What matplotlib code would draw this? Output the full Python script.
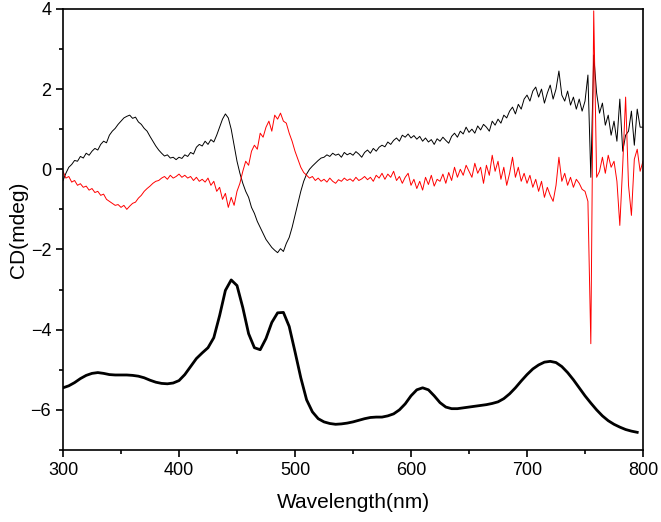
import numpy as np
import matplotlib
matplotlib.use("Agg")
import matplotlib.pyplot as plt
from matplotlib.ticker import MultipleLocator

plt.rcParams["font.family"] = ["Liberation Sans", "DejaVu Sans"]

# CD spectra, 2.5 nm steps from 300 to 800 nm
wl_cd = np.arange(300, 800.1, 2.5)

cd_black = [
    -0.28, -0.10, 0.05, 0.12, 0.22, 0.20, 0.32, 0.28, 0.40, 0.35,
    0.45, 0.52, 0.48, 0.62, 0.70, 0.66, 0.85, 0.95, 1.02, 1.12,
    1.20, 1.28, 1.32, 1.35, 1.27, 1.30, 1.18, 1.12, 1.02, 0.95,
    0.82, 0.70, 0.58, 0.48, 0.40, 0.33, 0.36, 0.28, 0.30, 0.24,
    0.30, 0.27, 0.36, 0.32, 0.42, 0.38, 0.55, 0.62, 0.58, 0.70,
    0.62, 0.74, 0.68, 0.85, 1.05, 1.25, 1.38, 1.28, 1.00, 0.60,
    0.20, -0.10, -0.35, -0.55, -0.70, -0.95, -1.10, -1.30, -1.45, -1.60,
    -1.75, -1.85, -1.95, -2.02, -2.08, -1.98, -2.05, -1.85, -1.70, -1.45,
    -1.15, -0.85, -0.55, -0.30, -0.12, 0.00, 0.08, 0.15, 0.22, 0.28,
    0.30, 0.36, 0.32, 0.40, 0.35, 0.38, 0.30, 0.42, 0.36, 0.40,
    0.35, 0.44, 0.38, 0.30, 0.42, 0.48, 0.40, 0.52, 0.45, 0.55,
    0.60, 0.56, 0.68, 0.62, 0.72, 0.78, 0.70, 0.85, 0.80, 0.88,
    0.78, 0.84, 0.75, 0.82, 0.70, 0.78, 0.68, 0.74, 0.62, 0.76,
    0.70, 0.80, 0.72, 0.65, 0.82, 0.90, 0.80, 0.95, 0.88, 1.05,
    0.92, 1.00, 0.90, 1.08, 0.98, 1.12, 1.05, 0.95, 1.20, 1.10,
    1.25, 1.15, 1.35, 1.28, 1.45, 1.55, 1.38, 1.62, 1.50, 1.75,
    1.85, 1.70, 1.95, 2.05, 1.80, 2.00, 1.65, 1.90, 2.10, 1.75,
    2.00, 2.45, 1.85, 1.70, 1.95, 1.60, 1.80, 1.50, 1.75, 1.45,
    1.70, 2.35, -0.20, 2.85, 1.90, 1.40, 1.65, 1.10, 1.35, 0.85,
    1.20, 0.70, 1.75, 0.45, 0.85, 0.95, 1.45, 0.60, 1.50, 1.05,
    1.05,
]

cd_red = [
    -0.05, -0.22, -0.18, -0.32, -0.28, -0.40, -0.36, -0.45, -0.42, -0.52,
    -0.48, -0.58, -0.55, -0.65, -0.62, -0.75, -0.80, -0.85, -0.90, -0.88,
    -0.95, -0.90, -1.00, -0.92, -0.85, -0.82, -0.72, -0.65, -0.55, -0.48,
    -0.42, -0.35, -0.30, -0.28, -0.22, -0.18, -0.25, -0.15, -0.22, -0.18,
    -0.12, -0.20, -0.15, -0.22, -0.18, -0.28, -0.20, -0.30, -0.25, -0.32,
    -0.22, -0.40, -0.30, -0.55, -0.45, -0.75, -0.60, -0.95, -0.70, -0.90,
    -0.55, -0.35, -0.05, 0.20, 0.10, 0.45, 0.60, 0.50, 0.90, 0.80,
    1.05, 1.20, 0.95, 1.35, 1.25, 1.40, 1.20, 1.15, 0.90, 0.70,
    0.45, 0.25, 0.05, -0.08, -0.15, -0.22, -0.18, -0.28, -0.22, -0.30,
    -0.25, -0.32, -0.22, -0.30, -0.35, -0.26, -0.30, -0.22, -0.28, -0.24,
    -0.30, -0.20, -0.28, -0.24, -0.18, -0.26, -0.20, -0.30, -0.15, -0.22,
    -0.10, -0.25, -0.12, -0.20, -0.05, -0.28, -0.18, -0.35, -0.20, -0.10,
    -0.40, -0.25, -0.48, -0.30, -0.52, -0.20, -0.38, -0.15, -0.42, -0.25,
    -0.30, -0.12, -0.35, -0.08, -0.28, 0.05, -0.20, 0.00, -0.15, 0.10,
    -0.05, -0.20, 0.15, -0.10, 0.05, -0.35, 0.10, -0.15, 0.35, -0.05,
    0.20, -0.25, 0.05, -0.40, -0.10, 0.30, -0.20, 0.05, -0.30, -0.10,
    -0.35, -0.15, -0.45, -0.25, -0.55, -0.30, -0.70, -0.45, -0.65, -0.80,
    -0.40, 0.30, -0.30, -0.10, -0.40, -0.20, -0.45, -0.25, -0.35, -0.50,
    -0.55, -0.80, -4.35, 3.95, -0.20, -0.05, 0.30, -0.10, 0.35, 0.05,
    0.20, -0.30, -1.40, 0.10, 1.80, -0.40, -1.15, 0.25, 0.50, -0.05,
    0.20,
]

# absorption spectrum (offset/scaled), 5 nm steps
wl_abs = np.arange(300, 796, 5)
absorb = [
    -5.45, -5.40, -5.32, -5.22, -5.14, -5.09, -5.07, -5.09, -5.12, -5.13,
    -5.13, -5.13, -5.14, -5.16, -5.20, -5.26, -5.31, -5.34, -5.35, -5.33,
    -5.27, -5.12, -4.92, -4.72, -4.58, -4.45, -4.20, -3.65, -3.02, -2.76,
    -2.90, -3.45, -4.10, -4.45, -4.50, -4.22, -3.82, -3.58, -3.57, -3.92,
    -4.55, -5.20, -5.75, -6.05, -6.22, -6.30, -6.34, -6.36, -6.35, -6.33,
    -6.30, -6.26, -6.22, -6.19, -6.18, -6.18, -6.15, -6.10, -6.00, -5.85,
    -5.65, -5.50, -5.45, -5.50, -5.65, -5.82, -5.93, -5.97, -5.97, -5.95,
    -5.93, -5.91, -5.89, -5.87, -5.84, -5.80, -5.72, -5.60, -5.45, -5.28,
    -5.12, -4.98, -4.88, -4.81, -4.79, -4.82, -4.92, -5.07, -5.25, -5.45,
    -5.65, -5.83, -6.00, -6.15, -6.27, -6.36, -6.43, -6.49, -6.53, -6.56,
]

fig = plt.figure(figsize=(6.61, 5.22), dpi=100)
ax = fig.add_axes([0.0953, 0.138, 0.8775, 0.845])

ax.plot(wl_cd, cd_black, color="black", lw=0.7)
ax.plot(wl_cd, cd_red, color="red", lw=0.7)
ax.plot(wl_abs, absorb, color="black", lw=2.0)

ax.set_xlim(300, 800)
ax.set_ylim(-7, 4)
ax.xaxis.set_major_locator(MultipleLocator(100))
ax.xaxis.set_minor_locator(MultipleLocator(50))
ax.yaxis.set_major_locator(MultipleLocator(2))
ax.yaxis.set_minor_locator(MultipleLocator(1))
ax.tick_params(which="both", direction="out", width=1.2, labelsize=13,
               top=False, right=False)
ax.tick_params(which="major", length=5)
ax.tick_params(which="minor", length=3)
for s in ax.spines.values():
    s.set_linewidth(1.2)

ax.set_xlabel("Wavelength(nm)", fontsize=15, labelpad=10)
ax.set_ylabel("CD(mdeg)", fontsize=15, labelpad=2)

fig.savefig("out.png", dpi=100)
